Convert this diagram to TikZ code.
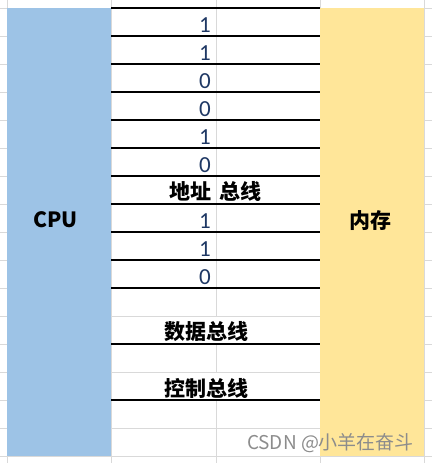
\documentclass[tikz,border=0pt]{standalone}
\usepackage{fontspec}
\setmainfont{Carlito}
\newfontfamily\cjk{Noto Sans CJK SC}
\definecolor{cpublue}{HTML}{9DC3E6}
\definecolor{memyellow}{HTML}{FFE699}
\definecolor{gridgray}{HTML}{D9D9D9}
\definecolor{digitblue}{HTML}{1F3864}
\definecolor{markgray}{HTML}{8C8C8C}

\newcommand{\gridrow}[1] % y in px
{
	\draw[gridline] (0,#1) -- (432,#1);
}
\newcommand{\gridcol}[1] % x in px
{
	\draw[gridline] (#1,0) -- (#1,463);
}
\newcommand{\bit}[3] % node name, row top in px, digit
{
	% digit, right aligned in its cell
	\node[digit] (#1) at (211,#2+24) {#3};
	% bus line under the row
	\draw[busline] (111,#2+28) -- (320,#2+28);
}

\begin{document}
\begin{tikzpicture}[x=1pt, y=-1pt,
	gridline/.style={gridgray, line width=0.8pt},
	busline/.style={black, line width=1.2pt},
	digit/.style={anchor=base east, inner sep=0pt, text=digitblue, font=\fontsize{23}{23}\selectfont},
	unit/.style={inner sep=0pt, font=\cjk\bfseries\fontsize{21}{21}\selectfont},
	busname/.style={inner sep=0pt, font=\cjk\bfseries\fontsize{21}{21}\selectfont},
	watermark/.style={inner sep=0pt, text=markgray, font=\cjk\fontsize{19}{19}\selectfont}]
	\useasboundingbox (0,0) rectangle (432,463);
	% sheet grid
	\gridrow{8}
	\gridrow{36}
	\gridrow{64}
	\gridrow{92}
	\gridrow{120}
	\gridrow{148}
	\gridrow{176}
	\gridrow{204}
	\gridrow{232}
	\gridrow{260}
	\gridrow{288}
	\gridrow{316}
	\gridrow{344}
	\gridrow{372}
	\gridrow{400}
	\gridrow{428}
	\gridrow{456}
	\gridcol{7}
	\gridcol{111}
	\gridcol{320}
	\gridcol{424}
	% middle column line, hidden where a label runs over it
	\draw[gridline] (216,0) -- (216,316);
	\draw[gridline] (216,344) -- (216,372);
	\draw[gridline] (216,400) -- (216,463);
	
	% CPU and memory
	\fill[cpublue] (7,8) rectangle (111,456);
	\fill[memyellow] (319.5,8) rectangle (424,456);
	\node[unit] (cpu) at (55.5,220) {CPU};
	\node[unit] (mem) at (370,221) {内存};
	
	% address bus
	\draw[busline] (111,8) -- (320,8);
	\bit{b1}{8}{1}
	\bit{b2}{36}{1}
	\bit{b3}{64}{0}
	\bit{b4}{92}{0}
	\bit{b5}{120}{1}
	\bit{b6}{148}{0}
	\node[busname, anchor=east] (addr) at (212,191.5) {地址};
	\node[busname, anchor=west] (addrbus) at (219,191.5) {总线};
	\draw[busline] (111,204) -- (320,204);
	\bit{b7}{204}{1}
	\bit{b8}{232}{1}
	\bit{b9}{260}{0}
	
	% data and control bus
	\node[busname] (data) at (206,332) {数据总线};
	\draw[busline] (111,344) -- (320,344);
	\node[busname] (ctrl) at (206,388) {控制总线};
	\draw[busline] (111,400) -- (320,400);
	
	\node[watermark] (csdn) at (330.5,443) {CSDN @小羊在奋斗};
\end{tikzpicture}
\end{document}
